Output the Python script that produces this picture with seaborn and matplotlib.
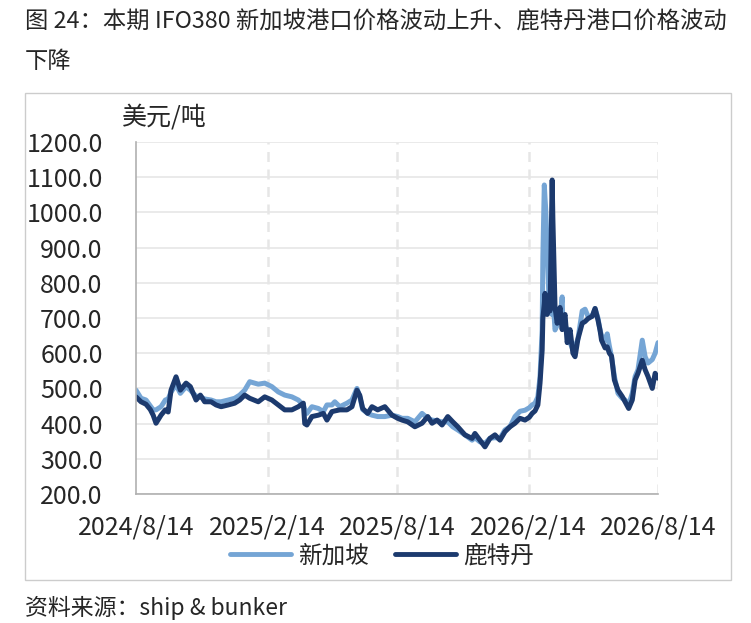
import pandas as pd
import matplotlib
matplotlib.use('Agg')
import matplotlib.pyplot as plt
from matplotlib.patches import Rectangle
import seaborn as sns

# Days since 2024/8/14 for each reading
days = [0, 7, 14, 20, 24, 28, 35, 41, 45, 49, 56, 62, 70, 76, 80, 84, 90, 96, 105, 112,
        119, 129, 138, 145, 152, 159, 171, 180, 190, 199, 208, 218, 227, 234, 236, 239, 246, 255, 262, 267,
        274, 278, 285, 295, 302, 309, 313, 317, 324, 330, 338, 348, 358, 366, 372, 380, 390, 400, 408, 414,
        421, 428, 436, 443, 450, 460, 470, 474, 481, 488, 495, 502, 509, 516, 523, 530, 537, 544, 550, 554,
        558, 562, 565, 568, 569, 571, 572, 573, 575, 576, 578, 579, 582, 583, 586, 589, 593, 596, 597, 600,
        603, 607, 611, 614, 618, 624, 628, 632, 638, 642, 646, 649, 651, 656, 659, 662, 665, 669, 674, 680,
        684, 689, 694, 698, 702, 708, 712, 716, 722, 726, 730]

# Singapore IFO380 (USD/t)
singapore = [495, 472, 467, 450, 439, 439, 448, 467, 470, 490, 510, 486, 505, 495, 486, 478, 476, 470, 467, 462,
             462, 467, 472, 481, 495, 519, 512, 515, 505, 490, 481, 476, 467, 453, 440, 429, 448, 443, 434, 453,
             453, 462, 448, 458, 467, 500, 476, 440, 429, 424, 420, 420, 424, 420, 415, 415, 405, 429, 415, 410,
             408, 405, 405, 391, 382, 368, 353, 360, 348, 344, 358, 360, 358, 382, 391, 420, 435, 438, 445, 453,
             458, 476, 533, 666, 874, 1078, 1040, 1008, 905, 840, 730, 715, 710, 760, 666, 680, 700, 760, 676, 680,
             666, 630, 610, 620, 640, 720, 725, 705, 705, 727, 700, 665, 650, 637, 655, 620, 590, 534, 486, 472,
             467, 453, 486, 534, 553, 637, 590, 572, 582, 600, 630]

# Rotterdam IFO380 (USD/t)
rotterdam = [476, 462, 455, 440, 424, 401, 424, 439, 433, 495, 533, 495, 515, 505, 486, 467, 481, 462, 462, 453,
             448, 453, 458, 467, 481, 472, 462, 476, 467, 453, 439, 439, 448, 458, 400, 396, 420, 424, 429, 410,
             434, 436, 439, 439, 448, 495, 480, 443, 429, 448, 439, 448, 424, 415, 410, 405, 391, 401, 420, 401,
             410, 396, 420, 405, 391, 368, 358, 372, 353, 334, 358, 368, 353, 377, 391, 401, 415, 410, 418, 429,
             436, 453, 515, 609, 700, 740, 770, 740, 710, 737, 730, 720, 1092, 980, 730, 685, 730, 667, 690, 710,
             630, 667, 600, 590, 640, 685, 690, 698, 705, 727, 695, 665, 637, 615, 618, 600, 592, 524, 495, 477,
             462, 443, 467, 524, 543, 580, 553, 534, 500, 543, 529]

series_names = ['新加坡', '鹿特丹']
series_colors = ['#75a5d5', '#1c3a6e']
tick_dates = ['2024-08-14', '2025-02-14', '2025-08-14', '2026-02-14', '2026-08-14']
tick_labels = ['2024/8/14', '2025/2/14', '2025/8/14', '2026/2/14', '2026/8/14']
y_ticks = [200, 300, 400, 500, 600, 700, 800, 900, 1000, 1100, 1200]

dates = pd.Timestamp('2024-08-14') + pd.to_timedelta(days, unit='D')
df = pd.concat([
    pd.DataFrame({'date': dates, 'price': singapore, 'port': series_names[0]}),
    pd.DataFrame({'date': dates, 'price': rotterdam, 'port': series_names[1]}),
])

sns.set_style('white')
plt.rcParams['font.family'] = ['Noto Sans CJK SC', 'DejaVu Sans']

fig = plt.figure(figsize=(7.51, 6.23), dpi=100)
ax = fig.add_axes([136 / 751, 1 - 494 / 623, 522 / 751, 352 / 623])

sns.lineplot(data=df, x='date', y='price', hue='port', palette=series_colors,
             linewidth=3.6, ax=ax, legend=False)

ticks = pd.to_datetime(tick_dates)
ax.set_xlim(ticks[0], ticks[-1])
ax.set_ylim(200, 1200)
ax.set_xticks(ticks)
ax.set_xticklabels(tick_labels)
ax.set_yticks(y_ticks)
ax.set_yticklabels([f'{v:.1f}' for v in y_ticks])
ax.set_xlabel('')
ax.set_ylabel('')

ax.grid(axis='y', color='#e6e6e6', linewidth=1.2)
for t in ticks[1:]:
    ax.axvline(t, color='#e6e6e6', linewidth=1.8, linestyle=(0, (4, 3)), zorder=0)
ax.set_axisbelow(True)

for side in ['top', 'right']:
    ax.spines[side].set_visible(False)
for side in ['left', 'bottom']:
    ax.spines[side].set_color('#b0b0b0')
    ax.spines[side].set_linewidth(1.2)
ax.tick_params(axis='x', length=6, width=1, color='#b0b0b0', pad=9, labelsize=18)
ax.tick_params(axis='y', length=4, width=1, color='#b0b0b0', pad=20, labelsize=18)

# legend
handles = [plt.Line2D([], [], color=c, linewidth=3.5) for c in series_colors]
fig.legend(handles, series_names, loc='center', bbox_to_anchor=(382 / 751, 1 - 556 / 623),
           ncol=2, frameon=False, fontsize=17, handlelength=2.6, handletextpad=0.3,
           columnspacing=1.1)

# outer box
fig.patches.append(Rectangle((25 / 751, 1 - 580 / 623), 706 / 751, 487 / 623,
                             transform=fig.transFigure, fill=False,
                             edgecolor='#cccccc', linewidth=1))

fig.text(25 / 751, 1 - 22 / 623, '图 24：本期 IFO380 新加坡港口价格波动上升、鹿特丹港口价格波动',
         fontsize=16.8, va='center', ha='left')
fig.text(25 / 751, 1 - 62 / 623, '下降', fontsize=16.8, va='center', ha='left')
fig.text(122 / 751, 1 - 117 / 623, '美元/吨', fontsize=18, va='center', ha='left')
fig.text(25 / 751, 1 - 608 / 623, '资料来源：ship & bunker', fontsize=16.5, va='center', ha='left')

fig.savefig('out.png', dpi=100)
